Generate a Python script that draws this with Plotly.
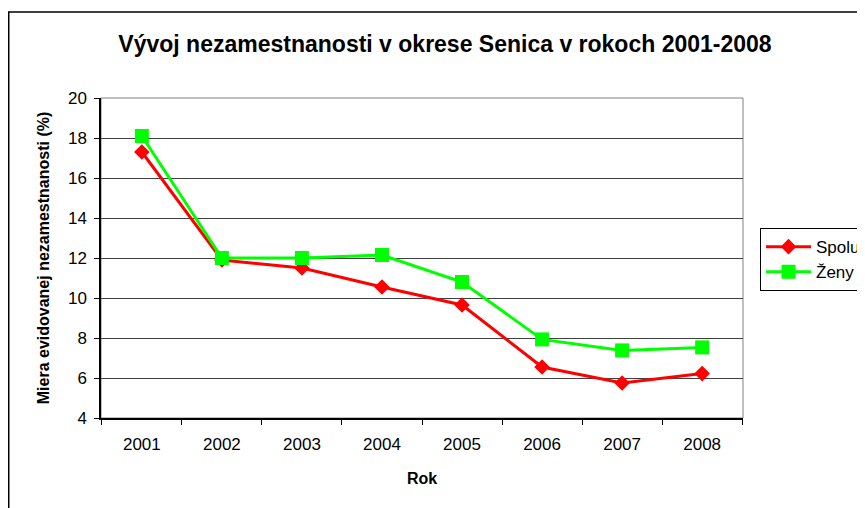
import plotly.graph_objects as go

roky = ["2001", "2002", "2003", "2004", "2005", "2006", "2007", "2008"]
spolu = [17.3, 11.9, 11.5, 10.55, 9.65, 6.55, 5.75, 6.22]
zeny = [18.1, 12.0, 12.0, 12.15, 10.8, 7.93, 7.38, 7.53]

font_name = "Liberation Sans, Arial, sans-serif"

# stránka má 8 px okraj, preto je figúra o 8 px menšia
FW, FH = 857, 500
# plocha grafu (v px figury)
L, T, W, H = 93, 90, 642, 320

fig = go.Figure()

fig.add_trace(go.Scatter(
    x=roky, y=spolu, name="Spolu", mode="lines+markers",
    line=dict(color="#FF0000", width=3),
    marker=dict(symbol="diamond", size=12, color="#FF0000"),
))
fig.add_trace(go.Scatter(
    x=roky, y=zeny, name="Ženy", mode="lines+markers",
    line=dict(color="#00FF00", width=3),
    marker=dict(symbol="square", size=14, color="#00FF00"),
))

# rámik okolo celého grafu a okolo plochy grafu
fig.add_shape(type="rect", xref="paper", yref="paper",
              x0=(0.75 - L) / W, x1=1.6, y0=-0.6, y1=(T + H - 4) / H,
              line=dict(color="black", width=1.5), layer="below")
fig.add_shape(type="rect", xref="paper", yref="paper",
              x0=0, x1=1, y0=0, y1=1,
              line=dict(color="#808080", width=1), layer="below")

fig.update_layout(
    width=FW, height=FH,
    margin=dict(l=L, r=FW - L - W, t=T, b=FH - T - H, autoexpand=False),
    paper_bgcolor="white", plot_bgcolor="white",
    font=dict(family=font_name, size=16, color="black"),
    title=dict(text="<b>Vývoj nezamestnanosti v okrese Senica v rokoch 2001-2008</b>",
               x=437 / FW, xanchor="center", y=1 - 36 / FH, yanchor="middle",
               font=dict(size=23)),
    legend=dict(x=1.0265, xanchor="left", y=0.495, yanchor="middle",
                bordercolor="black", borderwidth=1, bgcolor="white",
                font=dict(size=17), itemwidth=45, tracegroupgap=0),
    showlegend=True,
)

fig.update_xaxes(
    type="category", tickson="boundaries", ticks="outside", ticklen=5,
    tickcolor="black", showline=True, linecolor="black", linewidth=1.5,
    showgrid=False, tickfont=dict(size=17), ticklabelstandoff=10,
    title=dict(text="<b>Rok</b>", font=dict(size=16), standoff=20),
)
fig.update_yaxes(
    range=[4, 20], dtick=2, ticks="outside", ticklen=5, tickcolor="black",
    showline=True, linecolor="black", linewidth=1.5,
    showgrid=True, gridcolor="#404040", gridwidth=1,
    tickfont=dict(size=17), zeroline=False, ticklabelstandoff=4,
    title=dict(text="<b>Miera evidovanej nezamestnanosti (%)</b>", font=dict(size=16), standoff=14),
)

fig.write_html("out.html")
